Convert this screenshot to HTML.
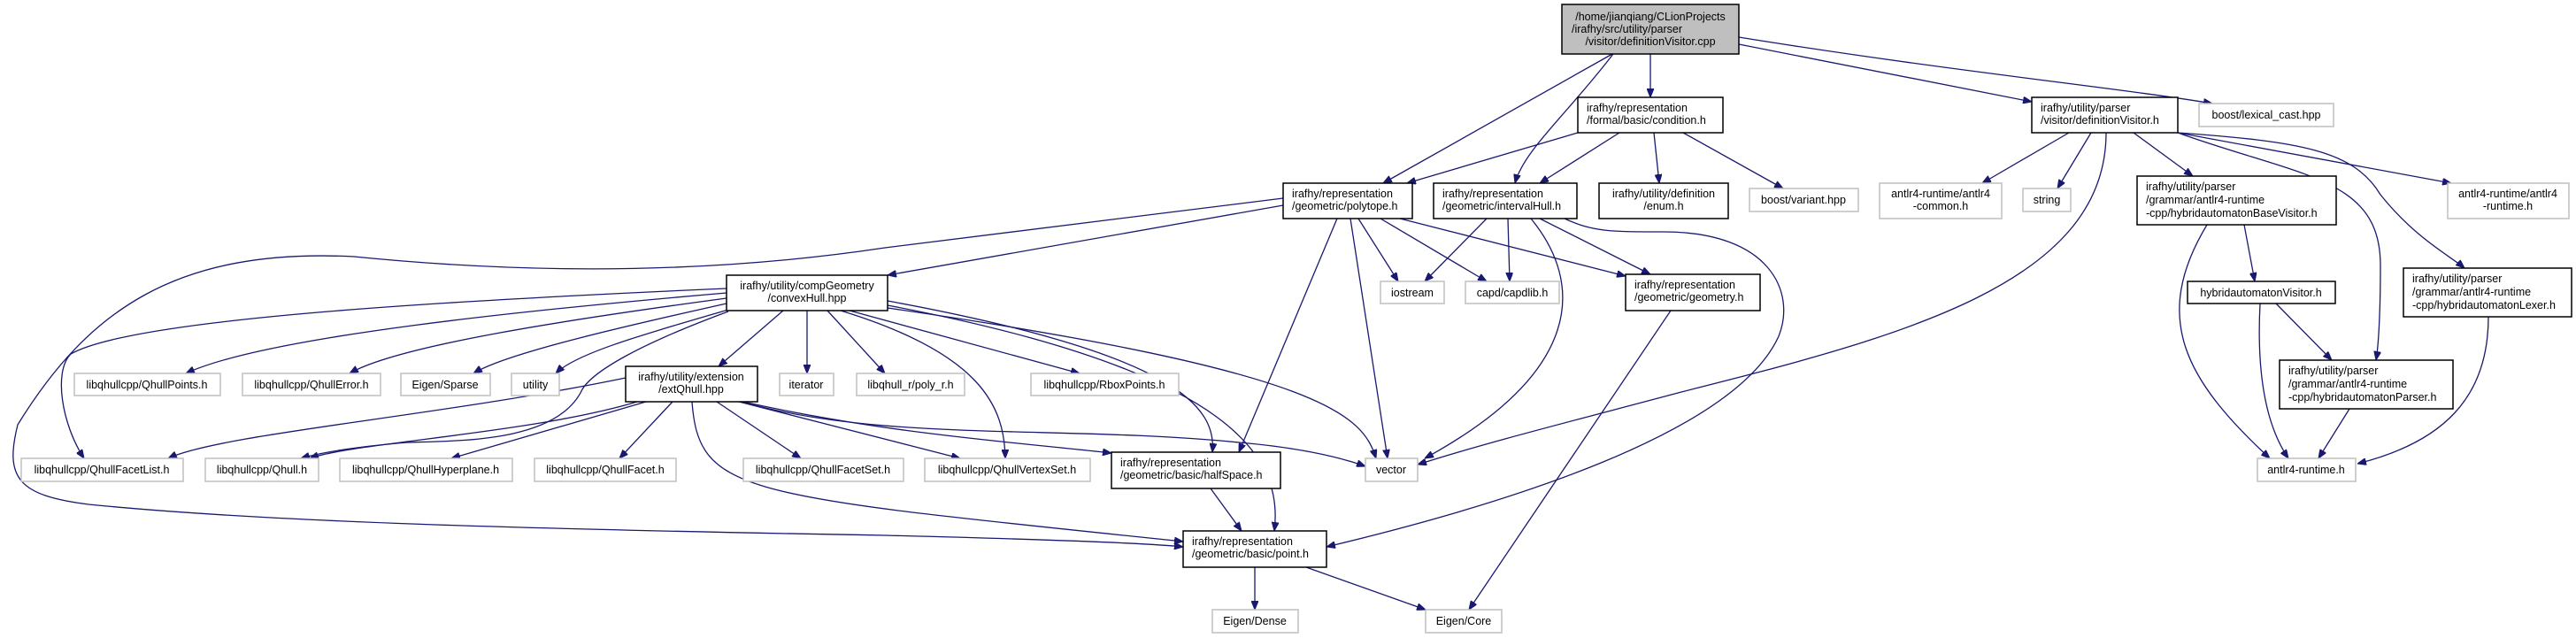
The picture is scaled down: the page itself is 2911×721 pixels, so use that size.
<!DOCTYPE html>
<html><head><meta charset="utf-8"><style>
html,body{margin:0;padding:0;background:#fff;}
svg{display:block;}
text{font-family:"Liberation Sans",sans-serif;font-size:12.5px;fill:#000;}
.e{fill:none;stroke:#191970;stroke-width:1.3;marker-end:url(#a);}
.b{fill:#fff;stroke:#000;stroke-width:1.5;}
.g{fill:#fff;stroke:#bfbfbf;stroke-width:1.5;}
</style></head><body>
<svg width="2911" height="721" viewBox="0 0 2911 721" xmlns="http://www.w3.org/2000/svg">
<defs><marker id="a" viewBox="0 0 10 8" refX="10" refY="4" markerWidth="10" markerHeight="8" markerUnits="userSpaceOnUse" orient="auto"><path d="M0,0 L10,4 L0,8 z" fill="#191970" stroke="#191970"/></marker></defs>

<!-- edges -->
<path class="e" d="M1822,61 L1563,207"/>
<path class="e" d="M1823,61 C1770,130 1722,170 1712,207"/>
<path class="e" d="M1865,61 L1865,110"/>
<path class="e" d="M1965,50 L2296,115"/>
<path class="e" d="M1965,42 C2200,80 2400,100 2500,117"/>
<path class="e" d="M1783,150 L1590,207"/>
<path class="e" d="M1830,150 L1740,207"/>
<path class="e" d="M1869,150 L1875,207"/>
<path class="e" d="M1902,150 L2015,213"/>
<path class="e" d="M1450,224 L1000,280 C800,310 600,310 400,290 C200,280 100,350 20,480 C5,540 20,560 100,570 C300,590 600,598 1000,605 C1200,610 1300,614 1337,618"/>
<path class="e" d="M1450,232 L1003,311"/>
<path class="e" d="M1535,247 L1580,318"/>
<path class="e" d="M1560,247 L1680,318"/>
<path class="e" d="M1526,247 L1568,518"/>
<path class="e" d="M1511,247 L1400,511"/>
<path class="e" d="M1582,247 L1837,312"/>
<path class="e" d="M1680,247 L1610,318"/>
<path class="e" d="M1704,247 L1706,318"/>
<path class="e" d="M1730,247 C1790,320 1790,420 1610,518"/>
<path class="e" d="M1740,247 L1865,310"/>
<path class="e" d="M1768,247 C1800,262 1820,262 1880,262 C2000,262 2030,330 2010,380 C1960,490 1700,570 1499,618"/>
<path class="e" d="M2338,150 L2240,207"/>
<path class="e" d="M2363,150 L2325,213"/>
<path class="e" d="M2380,150 C2380,320 2150,380 1900,443 C1780,475 1680,500 1602,525"/>
<path class="e" d="M2411,150 L2478,199"/>
<path class="e" d="M2461,150 C2600,200 2690,200 2690,300 C2690,350 2688,390 2685,407"/>
<path class="e" d="M2461,150 C2600,160 2660,170 2690,220 C2730,270 2770,290 2785,303"/>
<path class="e" d="M2461,150 L2770,207"/>
<path class="e" d="M2494,254 C2430,360 2470,430 2565,518"/>
<path class="e" d="M2536,254 L2548,318"/>
<path class="e" d="M2572,343 L2635,407"/>
<path class="e" d="M2554,343 C2550,420 2560,480 2586,518"/>
<path class="e" d="M2655,462 L2620,518"/>
<path class="e" d="M2812,358 C2812,450 2760,500 2664,524"/>
<path class="e" d="M1888,351 L1660,689"/>
<path class="e" d="M821,331 C600,350 300,380 210,422"/>
<path class="e" d="M821,337 C650,360 450,390 395,422"/>
<path class="e" d="M821,343 C700,370 570,400 535,422"/>
<path class="e" d="M823,350 C720,380 650,400 628,422"/>
<path class="e" d="M821,326 C500,340 150,360 80,400 C60,420 70,480 95,518"/>
<path class="e" d="M823,352 C720,390 670,420 658,440 C630,500 520,498 460,500 C400,505 360,512 340,518"/>
<path class="e" d="M885,351 L812,414"/>
<path class="e" d="M912,351 L912,422"/>
<path class="e" d="M935,351 L1000,422"/>
<path class="e" d="M960,351 L1220,422"/>
<path class="e" d="M950,351 C1110,400 1135,460 1136,518"/>
<path class="e" d="M1003,340 C1330,400 1375,460 1370,511"/>
<path class="e" d="M1003,345 C1400,420 1450,520 1440,600"/>
<path class="e" d="M1003,348 C1500,420 1540,470 1555,518"/>
<path class="e" d="M707,427 C500,470 250,490 190,518"/>
<path class="e" d="M720,454 C600,490 400,500 350,518"/>
<path class="e" d="M730,454 L510,518"/>
<path class="e" d="M760,454 L700,518"/>
<path class="e" d="M810,454 L905,518"/>
<path class="e" d="M835,454 L1085,518"/>
<path class="e" d="M840,454 C1000,490 1150,500 1256,512"/>
<path class="e" d="M838,454 C1000,500 1200,480 1400,500 C1460,505 1510,515 1543,527"/>
<path class="e" d="M782,454 C790,560 840,560 1337,612"/>
<path class="e" d="M1368,552 L1403,600"/>
<path class="e" d="M1418,641 L1418,689"/>
<path class="e" d="M1476,641 L1611,689"/>

<!-- nodes -->
<rect x="1765" y="5" width="200" height="56" fill="#bfbfbf" stroke="#000" stroke-width="1.5"/>
<text x="1865" y="23" text-anchor="middle">/home/jianqiang/CLionProjects</text>
<text x="1776" y="37">/irafhy/src/utility/parser</text>
<text x="1865" y="51" text-anchor="middle">/visitor/definitionVisitor.cpp</text>

<rect class="b" x="1783" y="110" width="164" height="40"/>
<text x="1793" y="126">irafhy/representation</text><text x="1793" y="140">/formal/basic/condition.h</text>

<rect class="b" x="1450" y="207" width="146" height="40"/>
<text x="1460" y="223">irafhy/representation</text><text x="1460" y="237">/geometric/polytope.h</text>

<rect class="b" x="1620" y="207" width="162" height="40"/>
<text x="1630" y="223">irafhy/representation</text><text x="1630" y="237">/geometric/intervalHull.h</text>

<rect class="b" x="1807" y="207" width="146" height="40"/>
<text x="1880" y="223" text-anchor="middle">irafhy/utility/definition</text><text x="1880" y="237" text-anchor="middle">/enum.h</text>

<rect class="g" x="1977" y="213" width="123" height="26"/><text x="2038" y="230" text-anchor="middle">boost/variant.hpp</text>
<rect class="g" x="2124" y="207" width="138" height="40"/>
<text x="2193" y="223" text-anchor="middle">antlr4-runtime/antlr4</text><text x="2193" y="237" text-anchor="middle">-common.h</text>
<rect class="g" x="2286" y="213" width="54" height="26"/><text x="2313" y="230" text-anchor="middle">string</text>

<rect class="b" x="2415" y="199" width="225" height="55"/>
<text x="2425" y="215">irafhy/utility/parser</text><text x="2425" y="230">/grammar/antlr4-runtime</text><text x="2425" y="245">-cpp/hybridautomatonBaseVisitor.h</text>

<rect class="g" x="2766" y="207" width="137" height="40"/>
<text x="2834" y="223" text-anchor="middle">antlr4-runtime/antlr4</text><text x="2834" y="237" text-anchor="middle">-runtime.h</text>

<rect class="b" x="2296" y="110" width="165" height="40"/>
<text x="2306" y="126">irafhy/utility/parser</text><text x="2306" y="140">/visitor/definitionVisitor.h</text>

<rect class="g" x="2485" y="117" width="152" height="26"/><text x="2561" y="134" text-anchor="middle">boost/lexical_cast.hpp</text>

<rect class="b" x="2472" y="318" width="167" height="25"/><text x="2555" y="335" text-anchor="middle">hybridautomatonVisitor.h</text>

<rect class="b" x="2716" y="303" width="190" height="55"/>
<text x="2726" y="319">irafhy/utility/parser</text><text x="2726" y="334">/grammar/antlr4-runtime</text><text x="2726" y="349">-cpp/hybridautomatonLexer.h</text>

<rect class="b" x="2576" y="407" width="196" height="55"/>
<text x="2586" y="423">irafhy/utility/parser</text><text x="2586" y="438">/grammar/antlr4-runtime</text><text x="2586" y="453">-cpp/hybridautomatonParser.h</text>

<rect class="g" x="2551" y="518" width="111" height="26"/><text x="2606" y="535" text-anchor="middle">antlr4-runtime.h</text>

<rect class="b" x="1837" y="310" width="152" height="41"/>
<text x="1847" y="326">irafhy/representation</text><text x="1847" y="340">/geometric/geometry.h</text>

<rect class="g" x="1560" y="318" width="72" height="25"/><text x="1596" y="335" text-anchor="middle">iostream</text>
<rect class="g" x="1656" y="318" width="106" height="25"/><text x="1709" y="335" text-anchor="middle">capd/capdlib.h</text>

<rect class="b" x="821" y="311" width="182" height="40"/>
<text x="912" y="327" text-anchor="middle">irafhy/utility/compGeometry</text><text x="912" y="341" text-anchor="middle">/convexHull.hpp</text>

<rect class="g" x="84" y="422" width="165" height="25"/><text x="166" y="439" text-anchor="middle">libqhullcpp/QhullPoints.h</text>
<rect class="g" x="274" y="422" width="156" height="25"/><text x="352" y="439" text-anchor="middle">libqhullcpp/QhullError.h</text>
<rect class="g" x="453" y="422" width="101" height="25"/><text x="503" y="439" text-anchor="middle">Eigen/Sparse</text>
<rect class="g" x="578" y="422" width="54" height="25"/><text x="605" y="439" text-anchor="middle">utility</text>

<rect class="b" x="707" y="414" width="149" height="40"/>
<text x="781" y="430" text-anchor="middle">irafhy/utility/extension</text><text x="781" y="444" text-anchor="middle">/extQhull.hpp</text>

<rect class="g" x="881" y="422" width="61" height="25"/><text x="911" y="439" text-anchor="middle">iterator</text>
<rect class="g" x="968" y="422" width="122" height="25"/><text x="1029" y="439" text-anchor="middle">libqhull_r/poly_r.h</text>
<rect class="g" x="1165" y="422" width="167" height="25"/><text x="1248" y="439" text-anchor="middle">libqhullcpp/RboxPoints.h</text>

<rect class="g" x="24" y="518" width="183" height="26"/><text x="115" y="535" text-anchor="middle">libqhullcpp/QhullFacetList.h</text>
<rect class="g" x="232" y="518" width="128" height="26"/><text x="296" y="535" text-anchor="middle">libqhullcpp/Qhull.h</text>
<rect class="g" x="384" y="518" width="195" height="26"/><text x="481" y="535" text-anchor="middle">libqhullcpp/QhullHyperplane.h</text>
<rect class="g" x="604" y="518" width="160" height="26"/><text x="684" y="535" text-anchor="middle">libqhullcpp/QhullFacet.h</text>
<rect class="g" x="840" y="518" width="181" height="26"/><text x="930" y="535" text-anchor="middle">libqhullcpp/QhullFacetSet.h</text>
<rect class="g" x="1045" y="518" width="187" height="26"/><text x="1138" y="535" text-anchor="middle">libqhullcpp/QhullVertexSet.h</text>

<rect class="b" x="1256" y="511" width="191" height="41"/>
<text x="1266" y="527">irafhy/representation</text><text x="1266" y="541">/geometric/basic/halfSpace.h</text>

<rect class="g" x="1543" y="518" width="59" height="26"/><text x="1572" y="535" text-anchor="middle">vector</text>

<rect class="b" x="1337" y="600" width="162" height="41"/>
<text x="1347" y="616">irafhy/representation</text><text x="1347" y="630">/geometric/basic/point.h</text>

<rect class="g" x="1370" y="689" width="97" height="26"/><text x="1418" y="706" text-anchor="middle">Eigen/Dense</text>
<rect class="g" x="1611" y="689" width="86" height="26"/><text x="1654" y="706" text-anchor="middle">Eigen/Core</text>
</svg>
</body></html>
